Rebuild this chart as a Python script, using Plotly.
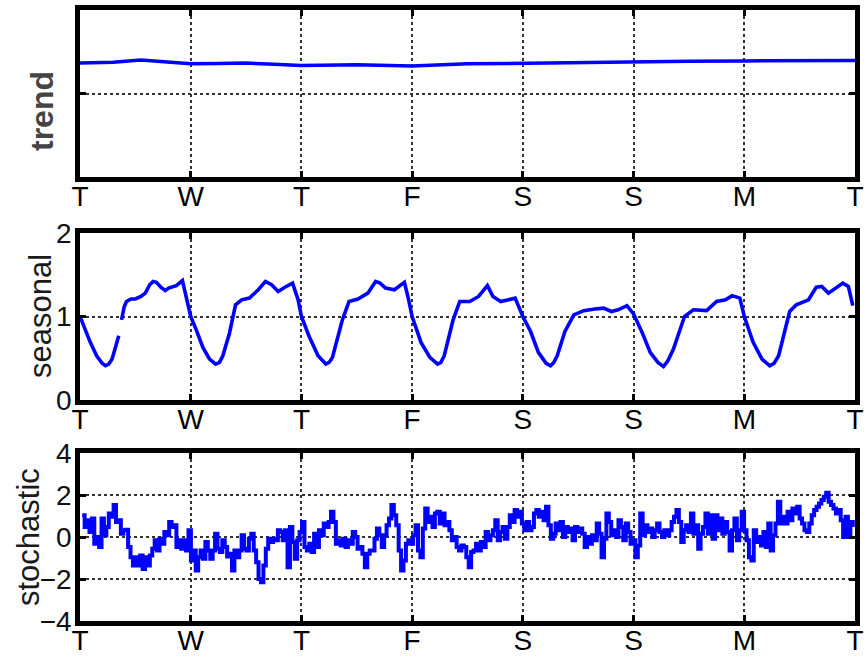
import numpy as np
import plotly.graph_objects as go

# ---------------- data ----------------
day_ticks = [0, 1, 2, 3, 4, 5, 6, 7]
day_labels = ["T", "W", "T", "F", "S", "S", "M", "T"]

trend_t = [0.0, 0.3, 0.55, 0.8, 1.0, 1.25, 1.5, 1.75, 2.0, 2.5, 3.0, 3.5, 4.0, 4.5, 5.0, 5.5, 6.0, 6.5, 7.0]
trend_v = [1.365, 1.375, 1.40, 1.38, 1.355, 1.36, 1.365, 1.35, 1.335, 1.345, 1.33, 1.355, 1.365, 1.375, 1.38, 1.385, 1.39, 1.395, 1.395]

seasonal_t = [0.00, 0.05, 0.09, 0.15, 0.20, 0.23, 0.26, 0.29, 0.35, None,
              0.375, 0.40, 0.42, 0.46, 0.50, 0.55, 0.59, 0.63, 0.66, 0.69, 0.73, 0.77, 0.80, 0.83, 0.87, 0.925, 0.96, 1.00,
              1.05, 1.11, 1.17, 1.225, 1.26, 1.29, 1.35, 1.405, 1.46, 1.53, 1.61, 1.675, 1.73, 1.79, 1.85, 1.92, 1.97, 2.00,
              2.07, 2.15, 2.22, 2.25, 2.28, 2.31, 2.37, 2.43, 2.51, 2.60, 2.67, 2.71, 2.76, 2.84, 2.93, 2.965, 3.00,
              3.08, 3.16, 3.23, 3.26, 3.29, 3.37, 3.43, 3.52, 3.60, 3.68, 3.73, 3.80, 3.87, 3.93, 4.00,
              4.07, 4.14, 4.21, 4.25, 4.28, 4.31, 4.38, 4.46, 4.55, 4.65, 4.73, 4.80, 4.86, 4.94, 5.00,
              5.08, 5.15, 5.22, 5.27, 5.31, 5.36, 5.46, 5.54, 5.66, 5.75, 5.83, 5.89, 5.96, 6.00,
              6.08, 6.16, 6.23, 6.27, 6.31, 6.41, 6.47, 6.58, 6.65, 6.70, 6.76, 6.82, 6.89, 6.94, 6.98]
seasonal_v = [1.00, 0.83, 0.70, 0.53, 0.44, 0.41, 0.43, 0.49, 0.77, None,
              0.96, 1.12, 1.18, 1.21, 1.21, 1.24, 1.28, 1.38, 1.42, 1.41, 1.35, 1.31, 1.34, 1.35, 1.37, 1.43, 1.24, 1.00,
              0.84, 0.63, 0.49, 0.43, 0.45, 0.53, 0.80, 1.14, 1.20, 1.22, 1.32, 1.42, 1.38, 1.30, 1.35, 1.40, 1.20, 1.00,
              0.76, 0.53, 0.43, 0.45, 0.51, 0.65, 0.96, 1.18, 1.21, 1.28, 1.42, 1.40, 1.34, 1.32, 1.41, 1.22, 1.00,
              0.69, 0.51, 0.43, 0.45, 0.53, 0.96, 1.18, 1.18, 1.24, 1.37, 1.24, 1.18, 1.20, 1.22, 1.00,
              0.82, 0.57, 0.44, 0.41, 0.45, 0.53, 0.82, 1.02, 1.07, 1.09, 1.10, 1.06, 1.08, 1.13, 1.03,
              0.80, 0.57, 0.45, 0.40, 0.47, 0.61, 1.00, 1.08, 1.07, 1.18, 1.20, 1.25, 1.22, 1.00,
              0.69, 0.49, 0.41, 0.44, 0.53, 1.06, 1.14, 1.20, 1.35, 1.36, 1.28, 1.33, 1.40, 1.36, 1.13]

stochastic_v = [
    1.04, 0.48, 0.80, 0.24, 0.88, -0.32, 0.00, -0.48, 0.88, 0.08, 0.48, 1.12, 0.96, 1.52, 0.72, 0.80, 0.16, 0.32, 0.35, -0.48,
    -0.96, -1.36, -0.96, -1.36, -0.88, -1.52, -0.96, -1.36, -0.88, -0.56, -0.16, -0.64, -0.08, -0.32, 0.24, 0.08, 0.72, 0.48, 0.56, -0.48,
    -0.16, -0.56, -0.16, -0.64, 0.32, -1.12, -0.64, -1.60, -0.96, -0.64, -1.04, -0.24, -0.64, -1.04, -0.64, 0.16, -0.56, -0.72, -0.16, -0.48,
    -0.93, -0.80, -1.60, -0.64, -0.96, -0.64, 0.08, -0.56, -0.64, -0.08, 0.16, -0.64, -1.20, -2.00, -2.16, -1.36, -0.56, -0.08, -0.24, -0.08,
    -0.16, 0.32, 0.24, -0.16, 0.32, -1.44, 0.48, -0.24, -1.04, -0.16, 0.24, 0.72, -0.48, -0.64, -0.32, -0.72, 0.16, -0.48, 0.32, 0.08,
    0.64, 0.48, 0.72, 1.20, 0.72, -0.32, -0.16, -0.40, -0.08, -0.48,
    -0.16, -0.32, 0.24, 0.00, -0.56, -0.48, -0.80, -1.44, -0.80, -0.64, -0.64, -0.08, 0.40, 0.08, -0.48, 0.08, 0.56, 0.88, 1.52, 1.04,
    0.56, -0.64, -1.60, -1.12, -0.32, -0.16, -0.32, 0.08, 0.56, -0.64, -0.96, 0.40, 1.36, 0.72, 0.96, 0.48, 1.12, 1.20, 0.64, 1.12,
    0.56, 0.72, 0.32, -0.16, 0.00, -0.48, -0.64, -0.40, -0.48, -0.96, -1.44, -0.72, -0.64, -0.32, -0.64, -0.24, -0.48, 0.24, -0.16, 0.08,
    0.32, 0.80, -0.16, 0.24, 0.48, -0.08, 0.48, 1.04, 0.72, 1.28, 0.96, 1.20, 0.64, 0.32, 0.72, 0.32, 0.48, 1.12, 1.28, 0.96,
    1.20, 0.80, 1.44, 0.56, -0.08, 0.16, 0.64, 0.32, 0.72, 0.00, 0.48, 0.24, 0.40, -0.16, 0.48, 0.24, 0.40, 0.16, -0.48, 0.00,
    -0.32, 0.08, -0.16, 0.64, 0.16, -0.96, -0.08, 1.12, 0.72, 0.08,
    0.32, 0.00, 0.80, 0.48, -0.16, 0.64, 0.24, -0.32, -0.16, -0.96, -0.40, 1.12, 0.08, 0.56, 0.24, 0.40, 0.00, 0.32, 0.64, 0.24,
    0.00, 0.32, 0.08, 0.32, 0.72, 0.96, 1.28, 0.72, -0.24, 0.32, 0.56, 0.24, 1.12, 0.16, 0.56, -0.56, 0.16, 0.48, 1.12, 0.16,
    1.04, -0.08, 1.04, 0.32, 0.88, 0.16, 0.72, 0.24, -0.64, 0.32, 0.88, -0.16, 0.32, 1.20, 0.32, -0.16, -0.96, -1.12, 0.32, -0.24,
    0.00, -0.40, 0.24, -0.48, 0.64, -0.64, 0.08, 0.64, 1.68, 0.64, 0.96, 0.64, 1.20, 0.80, 1.36, 1.12, 1.44, 0.88, 0.64, 0.32,
    0.24, 0.64, 1.04, 1.28, 1.44, 1.60, 1.76, 1.92, 2.11, 1.68, 1.52, 1.36, 1.12, 1.28, 0.80, 0.00, 0.96, 0.00, 0.72, 0.48,
]
stochastic_t = np.linspace(0.02, 6.98, len(stochastic_v))

# ---------------- figure ----------------
W, H = 868, 657
LINE = "#0000ff"

def px_x(a, b):
    return [a / W, b / W]

def px_y(top, bottom):
    return [1 - bottom / H, 1 - top / H]

fig = go.Figure()
fig.add_trace(go.Scatter(x=trend_t, y=trend_v, mode="lines", line=dict(color=LINE, width=3.5),
                         xaxis="x", yaxis="y", showlegend=False))
fig.add_trace(go.Scatter(x=seasonal_t, y=seasonal_v, mode="lines", line=dict(color=LINE, width=3.6),
                         connectgaps=False, xaxis="x2", yaxis="y2", showlegend=False))
fig.add_trace(go.Scatter(x=stochastic_t, y=stochastic_v, mode="lines", line=dict(color=LINE, width=4, shape="hv"),
                         xaxis="x3", yaxis="y3", showlegend=False))

FONT = "Liberation Sans, Arial, sans-serif"
common_x = dict(range=[0, 7], tickvals=day_ticks, ticktext=day_labels, showgrid=True,
                gridcolor="#333", griddash="dot", gridwidth=1.5, showline=True, linecolor="black",
                linewidth=4.5, mirror="ticks", ticks="inside", ticklen=6, tickwidth=3, tickcolor="black",
                tickfont=dict(family=FONT, size=28, color="black"), zeroline=False, fixedrange=True,
                automargin=False, ticklabelstandoff=-9)
common_y = dict(showgrid=True, gridcolor="#333", griddash="dot", gridwidth=1.5, showline=True,
                linecolor="black", linewidth=4.5, mirror="ticks", ticks="inside", ticklen=6, tickwidth=3,
                tickcolor="black", tickfont=dict(family=FONT, size=28, color="#111"), zeroline=False,
                fixedrange=True, automargin=False, ticklabelstandoff=-2)

xd = px_x(80, 855)
fig.update_layout(
    width=W, height=H, margin=dict(l=0, r=0, t=0, b=0, autoexpand=False),
    paper_bgcolor="white", plot_bgcolor="white",
    xaxis=dict(common_x, domain=xd, anchor="y"),
    xaxis2=dict(common_x, domain=xd, anchor="y2"),
    xaxis3=dict(common_x, domain=xd, anchor="y3"),
    yaxis=dict(common_y, domain=px_y(10, 177), anchor="x", range=[0, 2], tickvals=[0, 1, 2], showticklabels=False),
    yaxis2=dict(common_y, domain=px_y(233, 400), anchor="x2", range=[0, 2], tickvals=[0, 1, 2]),
    yaxis3=dict(common_y, domain=px_y(453, 621), anchor="x3", range=[-4, 4], tickvals=[-4, -2, 0, 2, 4]),
)

ann = dict(xref="paper", yref="paper", textangle=-90, showarrow=False, xanchor="center", yanchor="middle")
fig.add_annotation(text="<b>trend</b>", x=42 / W, y=1 - 111 / H,
                   font=dict(family=FONT, size=32, color="#444"), **ann)
fig.add_annotation(text="seasonal", x=40 / W, y=1 - 316 / H,
                   font=dict(family=FONT, size=31, color="#1a1a1a"), **ann)
fig.add_annotation(text="stochastic", x=28 / W, y=1 - 537 / H,
                   font=dict(family=FONT, size=31, color="#1a1a1a"), **ann)

fig.write_html("out.html", config={"displayModeBar": False},
               post_script="document.body.style.margin='0';document.body.style.overflow='hidden';")
